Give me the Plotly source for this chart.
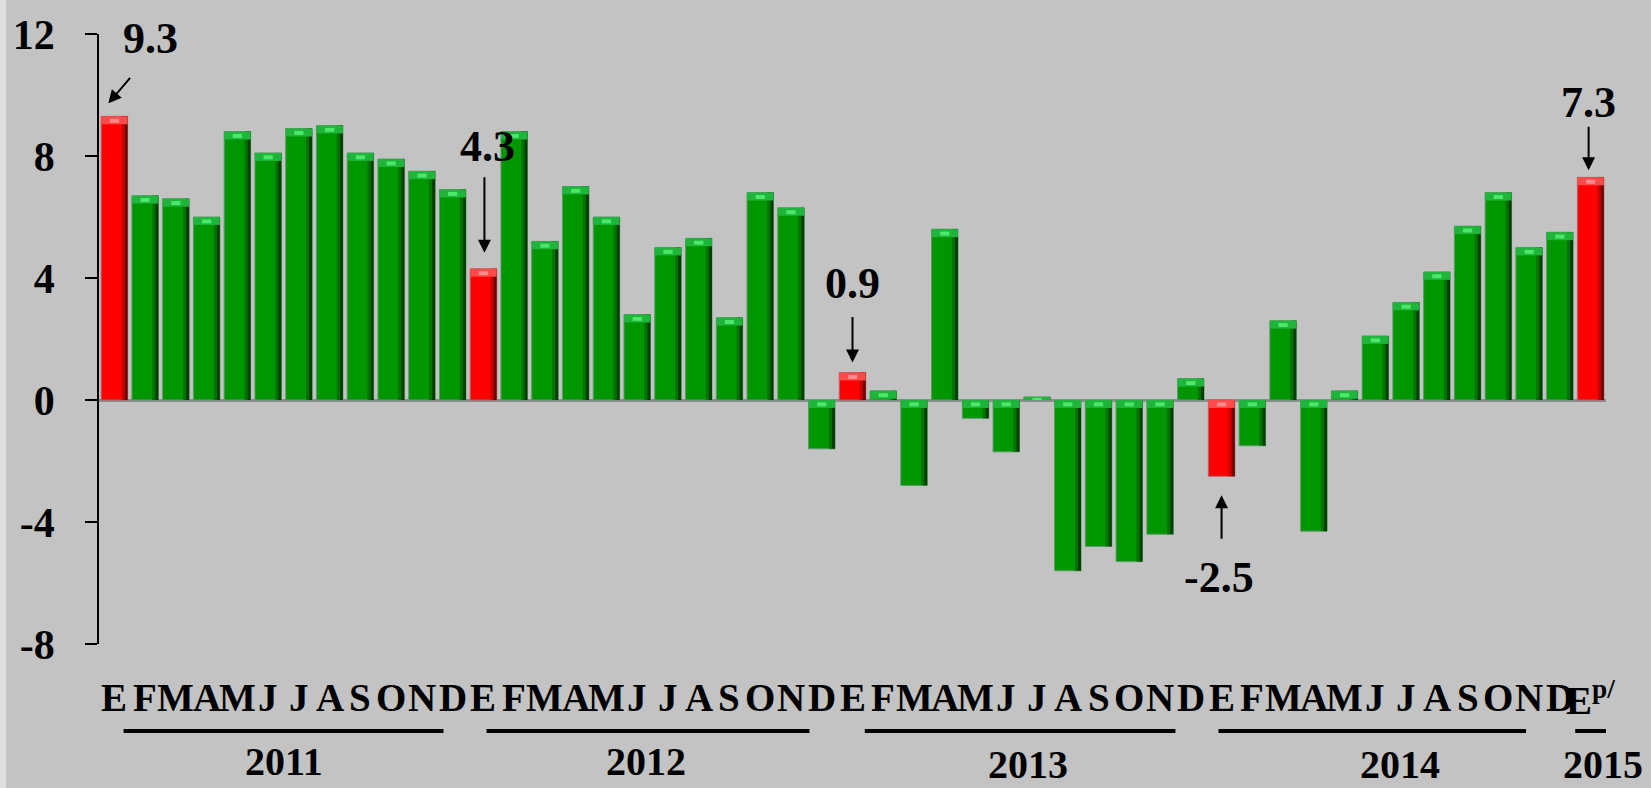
import plotly.graph_objects as go
import numpy as np

# ---------------- data ----------------
months = ["E", "F", "M", "A", "M", "J", "J", "A", "S", "O", "N", "D"] * 4 + ["E<sup>p/</sup>"]
values = [9.3, 6.7, 6.6, 6.0, 8.8, 8.1, 8.9, 9.0, 8.1, 7.9, 7.5, 6.9,
          4.3, 8.8, 5.2, 7.0, 6.0, 2.8, 5.0, 5.3, 2.7, 6.8, 6.3, -1.6,
          0.9, 0.3, -2.8, 5.6, -0.6, -1.7, 0.1, -5.6, -4.8, -5.3, -4.4, 0.7,
          -2.5, -1.5, 2.6, -4.3, 0.3, 2.1, 3.2, 4.2, 5.7, 6.8, 5.0, 5.5,
          7.3]
years = ["2011", "2012", "2013", "2014", "2015"]
highlight_idx = [0, 12, 24, 36, 48]
highlight_labels = ["9.3", "4.3", "0.9", "-2.5", "7.3"]
yticks = [-8, -4, 0, 4, 8, 12]

# ---------------- styling ----------------
BG = "#C3C3C3"
FONT = "Liberation Serif"
x = list(range(len(values)))
v = np.array(values)
is_red = [i in highlight_idx for i in x]

main_col = ["#FF0000" if r else "#009600" for r in is_red]
mid_col = ["#C80000" if r else "#007300" for r in is_red]
dark_col = ["#6E0000" if r else "#003F00" for r in is_red]
cap_col = ["#FF4A4A" if r else "#1FB43A" for r in is_red]
hi_col = ["#FF8C8C" if r else "#4BE86A" for r in is_red]
edge_col = ["#B46464" if r else "#5E9A6E" for r in is_red]

top = np.maximum(v, 0)
caph = np.minimum(0.26, np.abs(v))

fig = go.Figure()
W, OFF = 0.86, -0.43
fig.add_trace(go.Bar(x=x, y=v, width=W, offset=OFF,
                     marker=dict(color=main_col, line=dict(color=edge_col, width=1))))
fig.add_trace(go.Bar(x=x, y=v, width=0.10, offset=0.23,
                     marker=dict(color=mid_col, line=dict(width=0))))
fig.add_trace(go.Bar(x=x, y=v, width=0.10, offset=0.33,
                     marker=dict(color=dark_col, line=dict(width=0))))
fig.add_trace(go.Bar(x=x, y=caph, base=top - caph, width=W, offset=OFF,
                     marker=dict(color=cap_col, line=dict(width=0))))
fig.add_trace(go.Bar(x=x, y=caph * 0.5, base=top - caph * 0.8, width=0.3, offset=-0.15,
                     marker=dict(color=hi_col, line=dict(width=0))))

annotations = []
# month letters
for i, m in enumerate(months):
    annotations.append(dict(x=i, y=-0.088, xref="x", yref="paper", text=m, showarrow=False,
                            xanchor="center", yanchor="middle",
                            font=dict(family=FONT, size=39, color="black", weight="bold")))

# year labels and underlines
year_centers = [5.5, 17.3, 29.7, 41.8, 48.4]
year_y = [-0.193, -0.193, -0.198, -0.198, -0.198]
line_spans = [(0.3, 10.7), (12.1, 22.6), (24.4, 34.5), (35.9, 45.9), (47.5, 48.8)]
shapes = []
for yr, cx, yy, (a, b) in zip(years, year_centers, year_y, line_spans):
    annotations.append(dict(x=cx, y=yy, xref="x", yref="paper", text=yr, showarrow=False,
                            xanchor="center", yanchor="middle",
                            font=dict(family=FONT, size=40, color="black", weight="bold")))
    shapes.append(dict(type="line", xref="x", yref="paper", x0=a, x1=b, y0=-0.1426, y1=-0.1426,
                       line=dict(color="black", width=4)))

# left light strip
shapes.append(dict(type="rect", xref="paper", yref="paper", x0=-0.0700, x1=-0.0617,
                   y0=-0.3, y1=1.1, fillcolor="#DEDEDE", line=dict(width=0), layer="below"))

# highlight labels + arrows: (text xshift, text yshift, arrow xshift, arrow yshift, ax, ay)
offs = [(36, 78, -6, 13, 23, -27),
        (4, 122, 1, 16, 0, -77),
        (0, 89, 0, 10, 0, -47),
        (-3, -101, 0, -19, 0, 45),
        (-2, 75, -2, 7, 0, -45)]
for idx, lab, (tx, ty, axs, ays, ax, ay) in zip(highlight_idx, highlight_labels, offs):
    annotations.append(dict(x=idx, y=values[idx], xref="x", yref="y", text=lab, showarrow=False,
                            xshift=tx, yshift=ty, xanchor="center", yanchor="middle",
                            font=dict(family=FONT, size=44, color="black", weight="bold")))
    annotations.append(dict(x=idx, y=values[idx], xref="x", yref="y", text="", showarrow=True,
                            xshift=axs, yshift=ays, ax=ax, ay=ay, arrowhead=2, arrowsize=1.3,
                            arrowwidth=2, arrowcolor="black"))

fig.update_layout(
    width=1651, height=788, autosize=False,
    paper_bgcolor=BG, plot_bgcolor=BG,
    margin=dict(l=99, r=45, t=34, b=144),
    barmode="overlay", showlegend=False,
    annotations=annotations, shapes=shapes,
    font=dict(family=FONT, color="black"),
)
fig.update_xaxes(range=[-0.5, 48.5], showticklabels=False, showline=False, ticks="",
                 showgrid=False, zeroline=False, fixedrange=True)
fig.update_yaxes(range=[-8, 12], tickvals=yticks, ticktext=[str(t) for t in yticks],
                 showline=True, linecolor="black", linewidth=1.5,
                 ticks="outside", ticklen=12, tickwidth=1.5, tickcolor="black",
                 tickfont=dict(family=FONT, size=42, color="black", weight="bold"),
                 ticklabelstandoff=22,
                 showgrid=False, zeroline=True, zerolinecolor="#8C8C8C", zerolinewidth=2.5)

fig.write_html("out.html", config={"displayModeBar": False},
               post_script="document.body.style.margin='0';document.body.style.overflow='hidden';")
